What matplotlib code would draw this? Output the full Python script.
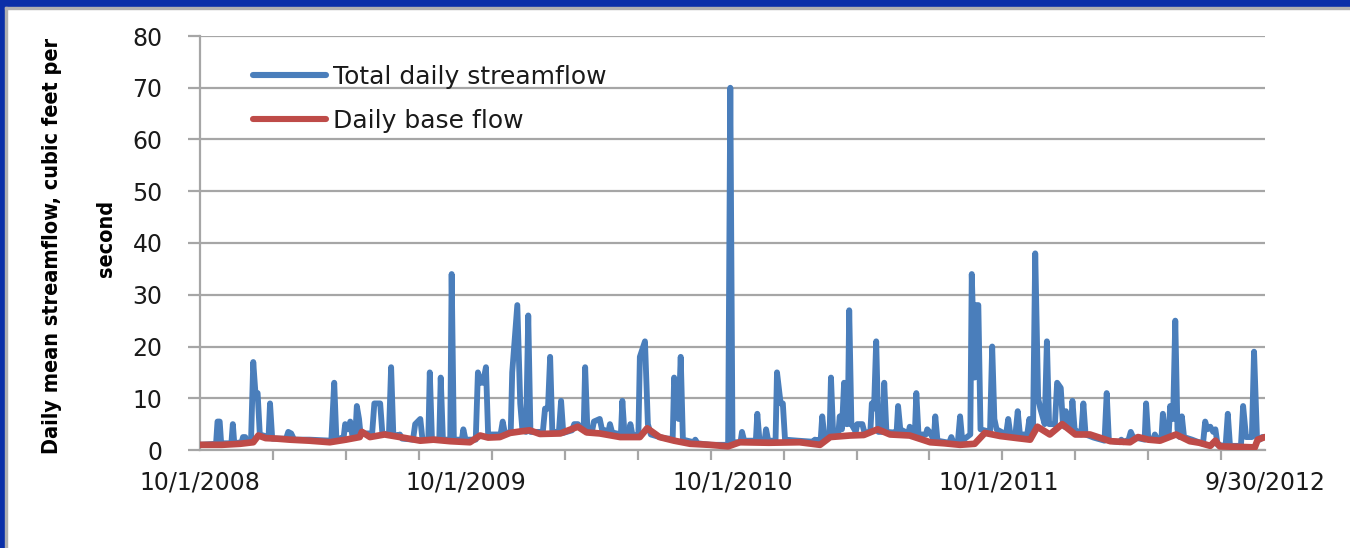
#!/usr/bin/env python3
"""
Daily streamflow vs daily base flow, water years 2009-2012.
Saves out.png
"""
import matplotlib
matplotlib.use('Agg')
import matplotlib.pyplot as plt
from matplotlib.patches import Rectangle

# days since 10/1/2008 and total daily streamflow (cfs)
flow_day = [0, 22, 24, 27, 29, 43, 45, 47, 57, 59, 62, 64, 70, 73, 76, 79, 82, 94, 96, 99,
            118, 121, 125, 129, 150, 180, 184, 187, 197, 199, 203, 206, 209, 213, 215, 218, 220,
            236, 239, 247, 250, 259, 262, 265, 272, 274, 277, 292, 295, 302, 305, 313, 315, 318,
            328, 330, 333, 343, 345, 348, 359, 361, 364, 378, 381, 385, 388, 392, 395, 412, 415,
            418, 426, 428, 435, 439, 442, 447, 450, 453, 470, 473, 477, 480, 483, 492, 495, 498,
            510, 513, 518, 521, 526, 528, 531, 538, 540, 548, 551, 560, 562, 565, 577, 579, 582,
            588, 590, 593, 601, 603, 610, 614, 618, 630, 640, 648, 650, 656, 659, 662, 677, 679,
            682, 700, 724, 727, 730, 741, 743, 746, 762, 764, 767, 774, 776, 779, 789, 791, 796,
            799, 802, 820, 840, 843, 846, 851, 853, 856, 863, 865, 868, 875, 877, 880, 883, 886,
            888, 890, 893, 899, 901, 908, 911, 919, 921, 924, 927, 930, 936, 938, 941, 950, 955,
            957, 960, 971, 973, 976, 980, 982, 985, 995, 997, 1000, 1006, 1008, 1011, 1027, 1030,
            1033, 1039, 1042, 1045, 1056, 1058, 1062, 1064, 1067, 1070, 1083, 1086, 1089, 1092,
            1105, 1108, 1111, 1118, 1121, 1124, 1134, 1137, 1140, 1142, 1145, 1149, 1152, 1158,
            1161, 1164, 1172, 1175, 1180, 1183, 1185, 1187, 1190, 1194, 1196, 1199, 1208, 1211,
            1214, 1225, 1240, 1243, 1246, 1261, 1263, 1266, 1273, 1276, 1279, 1295, 1297, 1300,
            1307, 1309, 1312, 1318, 1320, 1323, 1328, 1330, 1334, 1337, 1340, 1343, 1346, 1349,
            1360, 1375, 1378, 1381, 1385, 1389, 1392, 1395, 1406, 1409, 1412, 1427, 1430, 1434,
            1442, 1445, 1449, 1453, 1456, 1460]
flow_val = [1.0, 1.2, 5.5, 5.5, 1.3, 1.3, 5.0, 1.3, 1.5, 2.5, 2.5, 1.5, 2.0, 17, 11, 11, 3.0, 2.5, 9, 2.2,
            2.2, 3.5, 3.2, 2.0, 2.0, 1.8, 13, 2.0, 2.5, 5, 4, 5.5, 2.6, 3.0, 8.5, 6, 3.2,
            3.2, 9, 9, 3.2, 3.0, 16, 3.0, 2.8, 3.0, 2.2, 2.0, 5, 6, 2.0, 2.0, 15, 2.0,
            2.0, 14, 2.0, 2.0, 34, 2.0, 2.0, 4.0, 2.0, 2.0, 15, 13, 13, 16, 3.0, 3.0, 5.5,
            3.2, 3.5, 15, 28, 9, 3.8, 3.5, 26, 3.5, 3.5, 8, 8, 18, 3.5, 3.5, 9.5, 3.3,
            3.8, 5, 5, 4.5, 4.2, 16, 4.2, 4.0, 5.5, 6, 4.0, 3.6, 5, 3.4, 3.0, 9.5, 3.0,
            2.8, 5, 2.8, 3.0, 18, 21, 5, 3.0, 2.5, 2.2, 2.2, 14, 6, 18, 2.0, 1.5, 2.0,
            1.3, 1.0, 1.0, 70, 1.5, 1.5, 3.5, 1.8, 1.8, 7, 1.8, 1.8, 4.0, 1.8, 1.8, 15, 9,
            9, 2.0, 1.8, 1.6, 2.0, 1.8, 2.2, 6.5, 2.6, 2.6, 14, 3.0, 3.0, 6.5, 4.0, 13, 5,
            5, 27, 5, 3.5, 5, 5, 3.3, 3.6, 9, 8, 21, 3.5, 3.5, 13, 3.5, 3.4, 3.5,
            8.5, 4.0, 3.2, 4.5, 3.2, 3.2, 11, 3.0, 3.0, 4.0, 3.5, 2.0, 6.5, 1.8, 1.4, 2.5,
            1.4, 1.6, 6.5, 1.8, 3.0, 34, 14, 28, 28, 4.0, 3.5, 20, 6, 4.0,
            3.0, 6, 3.0, 3.2, 7.5, 3.0, 3.0, 6, 3.5, 4.0, 38, 10, 8, 5,
            21, 5, 5, 13, 12, 5, 4.5, 7.5, 4.5, 4.0, 9.5, 4.0, 3.0, 9,
            3.0, 2.4, 1.8, 11, 1.8, 1.5, 2.0, 1.5, 2.0, 3.5, 2.5, 2.0, 9, 2.2,
            2.2, 3.0, 2.2, 2.2, 7, 3.0, 3.0, 8.5, 6, 25, 4.0, 2.5, 6.5, 2.5,
            2.0, 1.2, 5.5, 4.0, 4.5, 3.5, 4.0, 1.0, 0.8, 7, 0.8, 0.8, 8.5, 2.5,
            2.5, 19, 2.5, 2.0, 2.5, 2.5]

# days since 10/1/2008 and daily base flow (cfs)
base_day = [0, 30, 55, 73, 80, 90, 105, 123, 150, 178, 200, 219, 222, 233, 253, 274, 302,
            320, 343, 370, 384, 395, 411, 425, 440, 452, 466, 494, 518, 530, 548, 576, 603,
            613, 630, 650, 672, 699, 724, 740, 780, 822, 850, 864, 891, 910, 929, 946, 973,
            1001, 1020, 1042, 1062, 1076, 1097, 1120, 1138, 1148, 1165, 1182, 1200, 1220,
            1248, 1275, 1286, 1300, 1316, 1338, 1357, 1370, 1385, 1392, 1398, 1426, 1446,
            1450, 1460]
base_val = [1.0, 1.0, 1.2, 1.5, 2.8, 2.3, 2.2, 2.0, 1.8, 1.5, 2.0, 2.5, 3.5, 2.5, 3.0, 2.5, 1.8,
            2.0, 1.7, 1.5, 2.8, 2.4, 2.5, 3.3, 3.6, 3.8, 3.1, 3.2, 4.5, 3.4, 3.2, 2.5, 2.5,
            4.2, 2.5, 1.8, 1.2, 1.0, 0.7, 1.5, 1.4, 1.5, 1.0, 2.5, 2.8, 2.9, 4.0, 3.0, 2.8,
            1.5, 1.3, 1.0, 1.2, 3.3, 2.7, 2.3, 2.0, 4.5, 3.0, 5.0, 3.0, 3.0,
            1.7, 1.5, 2.5, 2.0, 1.8, 3.0, 1.7, 1.4, 0.8, 1.8, 0.7, 0.6, 0.5,
            2.0, 2.5]

label_days = [0, 365, 730, 1095, 1460]
label_text = ['10/1/2008', '10/1/2009', '10/1/2010', '10/1/2011', '9/30/2012']
tick_days = list(range(0, 1461, 100))
y_ticks = [0, 10, 20, 30, 40, 50, 60, 70, 80]

BLUE = '#4a7ebb'
RED = '#be4b48'
GRID = '#a6a6a6'
TEXT = '#1a1a1a'

plt.rcParams['font.family'] = ['DejaVu Sans']

fig = plt.figure(figsize=(13.5, 5.48), dpi=100)
ax = fig.add_axes([200 / 1350, 1 - 450 / 548, 1065 / 1350, 414 / 548])

ax.plot(flow_day, flow_val, color=BLUE, lw=4.2, solid_joinstyle='round',
        solid_capstyle='round', label='Total daily streamflow', zorder=3)
ax.plot(base_day, base_val, color=RED, lw=4.8, solid_joinstyle='round',
        solid_capstyle='round', label='Daily base flow', zorder=4)

ax.set_xlim(0, 1460)
ax.set_ylim(0, 80)
ax.set_yticks(y_ticks)
ax.yaxis.grid(True, color=GRID, lw=1.6)
ax.set_axisbelow(True)
ax.tick_params(axis='y', length=9, width=1.6, color=GRID, pad=18,
               labelsize=17, labelcolor=TEXT)

ax.set_xticks(label_days)
ax.set_xticklabels(label_text)
ax.set_xticks(tick_days, minor=True)
ax.tick_params(axis='x', which='major', length=0, pad=15, labelsize=17,
               labelcolor=TEXT)
ax.tick_params(axis='x', which='minor', length=7, width=1.6, color=GRID)

for side in ['top', 'right']:
    ax.spines[side].set_visible(False)
for side in ['left', 'bottom']:
    ax.spines[side].set_color(GRID)
    ax.spines[side].set_linewidth(1.6)

leg = ax.legend(loc='upper left', bbox_to_anchor=(0.029, 0.985), frameon=False,
                fontsize=18, handlelength=2.9, handletextpad=0.3, labelspacing=0.8,
                labelcolor=TEXT)
for line in leg.get_lines():
    line.set_linewidth(4.4)

# y label is two separate lines, set apart like in the slide
ylab_font = dict(family=['DejaVu Sans'], stretch='condensed', weight='bold',
                 fontsize=15.5, rotation=90, ha='center', va='center')
fig.text(52 / 1350, 1 - 246 / 548, 'Daily mean streamflow, cubic feet per', **ylab_font)
fig.text(106 / 1350, 1 - 238 / 548, 'second', **ylab_font)

# blue slide frame
fig.patches.append(Rectangle((0, 1 - 7 / 548), 1, 7 / 548, transform=fig.transFigure,
                             color='#0a2fa8', zorder=10))
fig.patches.append(Rectangle((0, 0), 5 / 1350, 1, transform=fig.transFigure,
                             color='#0a2fa8', zorder=10))
fig.patches.append(Rectangle((5 / 1350, 1 - 9 / 548), 1, 2 / 548, transform=fig.transFigure,
                             color='#b0b0b0', zorder=10))
fig.patches.append(Rectangle((5 / 1350, 0), 2 / 1350, 1 - 7 / 548, transform=fig.transFigure,
                             color='#b0b0b0', zorder=10))

fig.savefig('out.png', dpi=100)
